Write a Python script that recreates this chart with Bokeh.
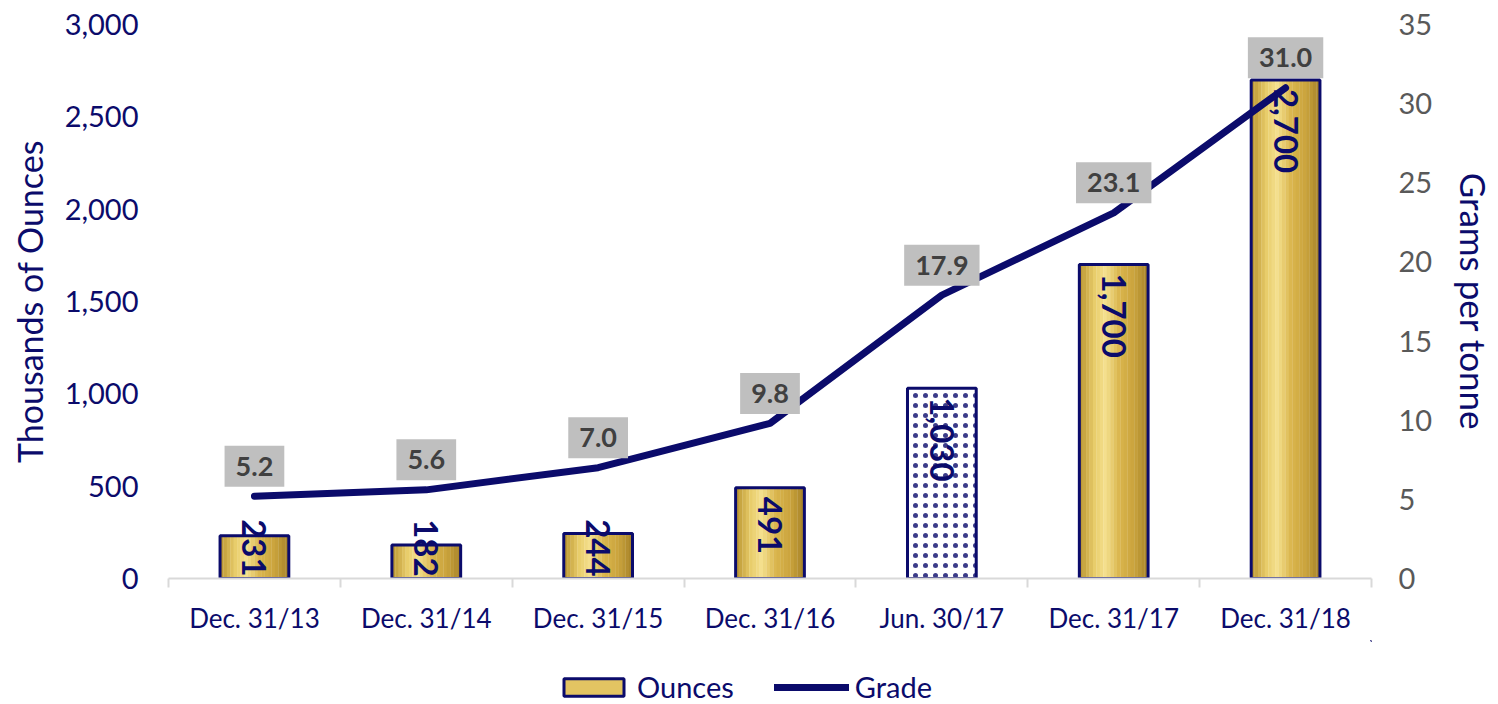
import math
from bokeh.plotting import figure
from bokeh.layouts import column
from bokeh.models import (ColumnDataSource, Range1d, LinearAxis, FixedTicker,
                          Legend, LegendItem, NumeralTickFormatter)
from bokeh.transform import dodge
from bokeh.core.properties import value
from bokeh.embed import file_html
from bokeh.resources import INLINE

# ---- data ----
categories = ["Dec. 31/13", "Dec. 31/14", "Dec. 31/15", "Dec. 31/16", "Jun. 30/17", "Dec. 31/17", "Dec. 31/18"]
ounces = [231, 182, 244, 491, 1030, 1700, 2700]
grade = [5.2, 5.6, 7.0, 9.8, 17.9, 23.1, 31.0]
projected = [False, False, False, False, True, False, False]
ounce_labels = ["231", "182", "244", "491", "1,030", "1,700", "2,700"]
grade_labels = ["5.2", "5.6", "7.0", "9.8", "17.9", "23.1", "31.0"]
series_names = ["Ounces", "Grade"]

NAVY = "#0B0B6B"
FONT = "Lato"

xpos = [i + 0.5 for i in range(len(categories))]

p = figure(width=1498, height=640, output_backend="svg", toolbar_location=None,
           x_range=Range1d(0, len(categories)), y_range=Range1d(0, 3000),
           min_border_left=168, min_border_right=125, min_border_top=24, min_border_bottom=62)
p.extra_y_ranges = {"grade": Range1d(0, 35)}
p.xgrid.visible = False
p.ygrid.visible = False
p.outline_line_color = None

# x axis
p.xaxis.ticker = FixedTicker(ticks=xpos, minor_ticks=list(range(len(categories) + 1)))
p.xaxis.major_label_overrides = {x: c for x, c in zip(xpos, categories)}
p.xaxis.axis_line_color = "#D9D9D9"
p.xaxis.axis_line_width = 2
p.xaxis.major_tick_line_color = None
p.xaxis.minor_tick_line_color = "#D9D9D9"
p.xaxis.minor_tick_line_width = 2
p.xaxis.minor_tick_out = 9
p.xaxis.minor_tick_in = 0
p.xaxis.major_label_standoff = 14
p.xaxis.major_label_text_font = FONT
p.xaxis.major_label_text_font_size = "26px"
p.xaxis.major_label_text_color = NAVY

# left axis
ly = p.yaxis[0]
ly.ticker = FixedTicker(ticks=[0, 500, 1000, 1500, 2000, 2500, 3000])
ly.formatter = NumeralTickFormatter(format="0,0")
ly.axis_line_color = None
ly.major_tick_line_color = None
ly.minor_tick_line_color = None
ly.major_tick_out = 0
ly.major_label_standoff = 30
ly.major_label_text_font = FONT
ly.major_label_text_font_size = "29px"
ly.major_label_text_color = NAVY
ly.axis_label = "Thousands of Ounces"
ly.axis_label_text_font = FONT
ly.axis_label_text_font_size = "34px"
ly.axis_label_text_font_style = "normal"
ly.axis_label_text_color = NAVY
ly.axis_label_standoff = 12

# right axis
ry = LinearAxis(y_range_name="grade", ticker=FixedTicker(ticks=[0, 5, 10, 15, 20, 25, 30, 35]))
ry.axis_line_color = None
ry.major_tick_line_color = None
ry.minor_tick_line_color = None
ry.major_tick_out = 0
ry.major_label_standoff = 27
ry.major_label_text_font = FONT
ry.major_label_text_font_size = "29px"
ry.major_label_text_color = "#595959"
ry.axis_label = "Grams per tonne"
ry.axis_label_text_font = FONT
ry.axis_label_text_font_size = "35px"
ry.axis_label_text_font_style = "normal"
ry.axis_label_text_color = NAVY
ry.axis_label_standoff = 18
p.add_layout(ry, "right")

# ---- bars ----
BAR_W = 0.40
gold_src = ColumnDataSource(dict(
    x=[x for x, pr in zip(xpos, projected) if not pr],
    top=[v for v, pr in zip(ounces, projected) if not pr]))
proj_src = ColumnDataSource(dict(
    x=[x for x, pr in zip(xpos, projected) if pr],
    top=[v for v, pr in zip(ounces, projected) if pr]))

stops = [(0.0, (184, 147, 46)), (0.22, (232, 204, 106)), (0.38, (244, 224, 142)),
         (0.58, (218, 182, 78)), (0.8, (202, 163, 60)), (1.0, (165, 130, 40))]

def grad(t):
    for (t0, c0), (t1, c1) in zip(stops[:-1], stops[1:]):
        if t0 <= t <= t1:
            f = (t - t0) / (t1 - t0)
            return "#%02x%02x%02x" % tuple(int(round(a + (b - a) * f)) for a, b in zip(c0, c1))
    return "#%02x%02x%02x" % stops[-1][1]

N = 20
sw = BAR_W / N
for k in range(N):
    off = -BAR_W / 2 + sw * (k + 0.5)
    p.vbar(x=dodge("x", off, range=p.x_range), top="top", bottom=0, width=sw * 1.08,
           source=gold_src, fill_color=grad((k + 0.5) / N), line_color=None)
p.vbar(x="x", top="top", bottom=0, width=BAR_W, source=gold_src,
       fill_color=None, line_color=NAVY, line_width=3)
p.vbar(x="x", top="top", bottom=0, width=BAR_W, source=proj_src,
       fill_color="white", hatch_pattern="dot", hatch_color=NAVY, hatch_scale=10, hatch_weight=1,
       hatch_alpha=0.8, line_color=NAVY, line_width=3)

# bar labels
lab_src = ColumnDataSource(dict(x=xpos, y=[max(v, 370) for v in ounces], t=ounce_labels))
p.text(x="x", y="y", text="t", source=lab_src, angle=-math.pi / 2, text_align="left",
       text_baseline="middle", y_offset=9, text_font=value(FONT), text_font_style="bold",
       text_font_size="33px", text_color=NAVY)

# ---- grade line ----
gsrc = ColumnDataSource(dict(x=xpos, g=grade, t=grade_labels))
p.line(x="x", y="g", source=gsrc, y_range_name="grade", line_color=NAVY, line_width=7,
       line_join="round", line_cap="round")

p.text(x="x", y="g", text="t", source=gsrc, y_range_name="grade", y_offset=-30,
       text_align="center", text_baseline="middle", text_font=value(FONT), text_font_style="bold",
       text_font_size="27px", text_color="#404040", background_fill_color="#BFBFBF",
       padding=11)

# ---- legend strip (separate small figure holding only the legend) ----
lf = figure(width=1498, height=64, output_backend="svg", toolbar_location=None,
            x_range=Range1d(0, 1), y_range=Range1d(0, 1),
            x_axis_location=None, y_axis_location=None, min_border=0)
lf.xgrid.visible = False
lf.ygrid.visible = False
lf.outline_line_color = None
# legend-key renderers: a single sample kept outside the strip's visible range
key_src = ColumnDataSource(dict(x=[5, 6], top=[5, 5], y=[5, 5]))
r_bar = lf.vbar(x="x", top="top", bottom=4, width=0.1, source=key_src,
                fill_color="#E3C462", line_color=NAVY, line_width=3)
r_line = lf.line(x="x", y="y", source=key_src, line_color=NAVY, line_width=7, line_cap="round")
legend = Legend(items=[LegendItem(label=series_names[0], renderers=[r_bar]),
                       LegendItem(label=series_names[1], renderers=[r_line])],
                orientation="horizontal", location=(388, 0), border_line_color=None,
                background_fill_alpha=0,
                label_text_font=FONT, label_text_font_size="29px", label_text_color=NAVY,
                glyph_width=75, glyph_height=22, spacing=40, label_standoff=6, margin=0,
                padding=2)
lf.add_layout(legend, "center")

layout = column(p, lf, spacing=0)
open("out.html", "w").write(file_html(layout, INLINE))
